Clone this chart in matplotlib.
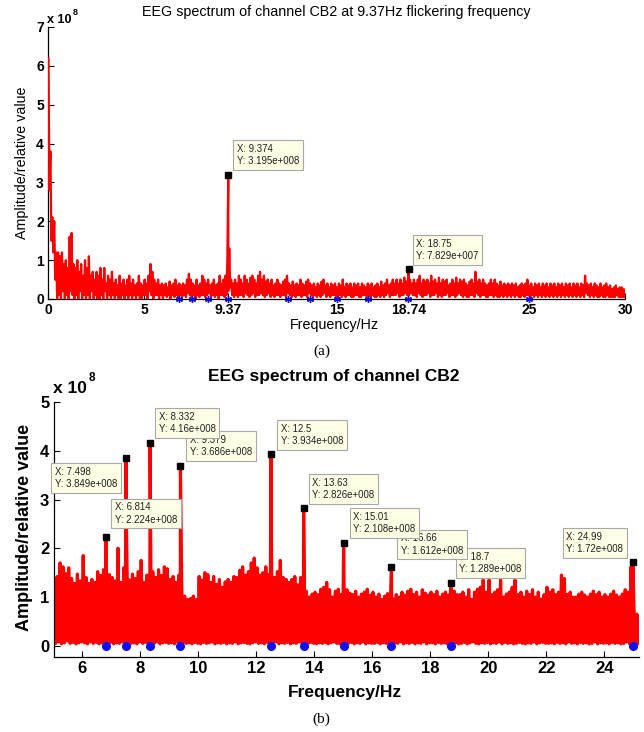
import numpy as np
import matplotlib
matplotlib.use('Agg')
import matplotlib.pyplot as plt

# ------------------------------------------------------------------ data
top_title = 'EEG spectrum of channel CB2 at 9.37Hz flickering frequency'
bot_title = 'EEG spectrum of channel CB2'
ylabel_text = 'Amplitude/relative value'
xlabel_text = 'Frequency/Hz'

# top spectrum: 0.1 Hz bins from 0 Hz, per-bin maxima / minima in units of 1e7
top_f0 = 0.0
top_df = 0.1
top_peaks = [
    62, 38, 21, 20, 12, 12, 11, 12, 9, 10,
    8, 16, 17, 9, 8, 10, 7, 9, 6, 10,
    8, 11, 6, 7, 5, 7, 6, 8, 5, 8,
    4, 6, 5, 7, 4, 5, 3.5, 6, 4, 5,
    3.5, 5, 6, 4, 5, 3.5, 4, 6, 4, 3.5,
    5, 4, 6, 9, 7, 5, 4, 5, 3.5, 4,
    3.5, 4, 3, 4.5, 3.5, 4, 5, 3.5, 4, 3.5,
    4, 3.5, 5, 6.5, 5, 4, 3.5, 5, 3.5, 4,
    6, 5, 4, 5, 3.5, 4, 5, 3.5, 4, 6,
    4, 5, 6, 10, 13, 5, 4, 5, 4, 6,
    5, 4, 6, 5, 4, 5.5, 6, 5, 4, 6,
    7, 5, 6, 4.5, 5, 4, 5, 3.5, 4, 5,
    4, 3.5, 4.5, 5, 6, 4, 3.5, 4.5, 3.5, 4,
    3.5, 5, 4, 3.5, 4.5, 5, 4, 3.5, 4, 3,
    4, 3.5, 4.5, 5, 3.5, 4, 3, 4, 3.5, 4,
    3, 4, 3.5, 5, 3, 4, 3.5, 4, 3, 4,
    3.5, 4, 3, 4, 3.5, 3, 4, 3.5, 4, 3,
    3.5, 4, 3, 4.5, 3.5, 4, 5, 3.5, 4, 5,
    4, 5, 4, 5, 4, 5.5, 4.5, 5, 5, 4,
    5, 4, 5, 6, 4, 5, 4.5, 5, 4, 6,
    4.5, 5, 4, 5.5, 4, 5, 4.5, 5, 3.5, 4,
    5, 4, 5.5, 4, 5, 4.5, 5, 4, 3.5, 4.5,
    5, 4, 7, 4.5, 5, 4, 5, 4, 3.5, 4,
    5, 4, 5, 4, 3.5, 4.5, 3.5, 4, 3.5, 4,
    3.5, 4, 3.5, 4, 3, 3.5, 4, 3.5, 4, 5,
    3.5, 4, 3, 4, 3.5, 4, 3, 4, 3.5, 4,
    3, 4, 3.5, 4, 3, 4, 3.5, 4, 3, 4,
    3.5, 4, 3, 4, 3.5, 4, 3, 4, 3.5, 6,
    4, 3.5, 4, 3, 4, 3.5, 3, 4, 3, 3.5,
    4, 3, 3.5, 2.5, 3, 3.5, 2.5, 3, 3, 2.5,
    2.5,
]
top_troughs = [
    28, 15, 12, 5, 0, 1, 0, 2, 0, 1,
    0, 2, 1, 0, 1, 0, 2, 0, 1, 0,
    1, 0, 2, 0, 1, 0, 0, 1, 0, 2,
    0, 1, 0, 1, 0, 1, 0, 0, 1, 0,
    1, 0, 1, 0, 1, 0, 1, 0, 0, 1,
    1, 0, 2, 1, 0, 1, 1, 0, 1, 0,
    1, 0.5, 1, 0, 1, 0.5, 1, 0, 1, 0.5,
    1, 0.5, 1.5, 1, 0.5, 1, 0, 1, 0.5, 1,
    1, 0.5, 1, 1.5, 0.5, 1, 0.5, 1, 0, 1,
    1, 0.5, 1, 2, 3, 1, 0.5, 1, 0.5, 1,
    1, 0.5, 1.5, 1, 0.5, 1, 1.5, 0.5, 1, 1,
    1.5, 1, 0.5, 1, 1.5, 0.5, 1, 0.5, 1, 1,
    0.5, 1, 1, 0.5, 1.5, 1, 0.5, 1, 0.5, 1,
    1, 0.5, 1, 1, 0.5, 1.5, 1, 0.5, 1, 0.5,
    1, 0.5, 1, 1.5, 0.5, 1, 0.5, 1, 1, 0.5,
    0.5, 1, 0.5, 1, 0.5, 1, 1, 0.5, 0.5, 1,
    1, 0.5, 0.5, 1, 1, 0.5, 1, 0.5, 1, 0.5,
    0.5, 1, 0.5, 1, 0.5, 1, 1.5, 0.5, 1, 1,
    1, 1.5, 0.5, 1, 1, 1.5, 1, 1, 1.5, 1,
    1, 0.5, 1.5, 1, 0.5, 1, 1, 1.5, 0.5, 1,
    1, 1.5, 0.5, 1, 0.5, 1, 1, 1.5, 0.5, 1,
    1, 0.5, 1, 1.5, 1, 0.5, 1, 0.5, 0.5, 1,
    1, 0.5, 1.5, 1, 0.5, 1, 1, 0.5, 0.5, 1,
    1, 0.5, 1, 0.5, 0.5, 1, 0.5, 1, 0.5, 1,
    0.5, 1, 0.5, 1, 0.5, 0.5, 1, 0.5, 1, 1,
    0.5, 1, 0.5, 1, 0.5, 1, 0.5, 1, 0.5, 1,
    0.5, 1, 0.5, 1, 0.5, 1, 0.5, 1, 0.5, 1,
    0.5, 1, 0.5, 1, 0.5, 1, 0.5, 1, 0.5, 1.5,
    1, 0.5, 1, 0.5, 1, 0.5, 0.5, 1, 0.5, 0.5,
    1, 0.5, 0.5, 0.5, 0.5, 1, 0.5, 0.5, 0.5, 0.5,
    0.5,
]
top_tip_x = [9.374, 18.75]
top_tip_y = [3.195e8, 7.829e7]
top_xticks = [0, 5, 9.37, 15, 18.74, 25, 30]
top_xticklabels = ['0', '5', '9.37', '15', '18.74', '25', '30']
top_yticks = [0, 1, 2, 3, 4, 5, 6, 7]

# stimulation frequencies (blue markers on the baseline)
stim_freqs = [6.814, 7.498, 8.332, 9.379, 12.5, 13.63, 15.01, 16.66, 18.7, 24.99]

# bottom spectrum: 0.1 Hz bins from 5 Hz, per-bin maxima / minima in units of 1e8
bot_f0 = 5.0
bot_df = 0.1
bot_peaks = [
    1.35, 1.42, 1.70, 1.62, 1.48, 1.60, 1.38, 1.28, 1.47, 1.33,
    1.85, 1.40, 1.28, 1.36, 1.30, 1.52, 1.44, 1.56, 1.60, 1.46,
    1.40, 1.33, 2.00, 1.30, 1.60, 2.10, 1.35, 1.47, 1.38, 1.52,
    1.75, 1.30, 1.45, 1.50, 1.52, 1.40, 1.56, 1.44, 1.62, 1.58,
    1.36, 1.42, 1.30, 1.45, 1.18, 1.02, 0.95, 0.97, 1.02, 0.95,
    1.42, 1.35, 1.50, 1.46, 1.30, 1.42, 1.26, 1.36, 1.20, 1.31,
    1.36, 1.30, 1.42, 1.40, 1.55, 1.62, 1.45, 1.52, 1.70, 1.80,
    1.60, 1.45, 1.50, 1.62, 1.46, 1.55, 1.40, 1.52, 1.75, 1.40,
    1.36, 1.30, 1.36, 1.42, 1.25, 1.40, 1.05, 1.12, 1.00, 1.06,
    1.10, 1.05, 1.16, 1.20, 1.30, 1.15, 1.00, 1.12, 1.16, 1.05,
    1.20, 1.15, 1.08, 1.05, 1.12, 1.00, 1.06, 1.10, 1.16, 1.04,
    1.10, 1.00, 1.06, 0.95, 1.02, 1.07, 1.00, 0.96, 1.05, 1.00,
    1.10, 1.04, 1.12, 1.16, 1.05, 1.10, 1.00, 1.15, 1.08, 1.04,
    1.10, 1.05, 1.12, 1.00, 1.06, 1.10, 1.04, 1.15, 1.12, 1.05,
    1.05, 1.10, 1.00, 1.15, 0.95, 1.10, 1.16, 1.20, 1.35, 1.10,
    1.35, 1.05, 1.10, 1.15, 1.35, 1.00, 1.06, 1.10, 1.20, 1.35,
    1.05, 1.10, 1.00, 1.12, 1.05, 1.15, 1.00, 1.10, 0.96, 1.05,
    1.20, 1.10, 1.15, 1.05, 1.10, 1.45, 1.38, 1.05, 1.10, 1.00,
    1.00, 1.06, 1.10, 1.04, 1.00, 1.06, 1.12, 1.05, 1.10, 1.00,
    1.05, 1.00, 1.06, 1.12, 1.04, 1.00, 1.06, 1.15, 1.10, 1.62,
    0.80, 0.65, 0.60,
]
bot_troughs = [
    0.05, 0.08, 0.04, 0.06, 0.10, 0.05, 0.07, 0.04, 0.06, 0.08,
    0.06, 0.04, 0.08, 0.05, 0.07, 0.04, 0.06, 0.09, 0.05, 0.07,
    0.04, 0.06, 0.05, 0.08, 0.04, 0.07, 0.05, 0.06, 0.04, 0.08,
    0.05, 0.07, 0.04, 0.06, 0.05, 0.08, 0.04, 0.06, 0.07, 0.05,
    0.06, 0.04, 0.08, 0.05, 0.07, 0.05, 0.06, 0.04, 0.07, 0.05,
    0.04, 0.07, 0.05, 0.06, 0.08, 0.04, 0.06, 0.05, 0.07, 0.04,
    0.06, 0.05, 0.08, 0.04, 0.06, 0.07, 0.05, 0.04, 0.06, 0.08,
    0.05, 0.06, 0.04, 0.07, 0.05, 0.06, 0.08, 0.04, 0.06, 0.05,
    0.07, 0.04, 0.06, 0.05, 0.08, 0.05, 0.06, 0.04, 0.07, 0.05,
    0.04, 0.06, 0.05, 0.07, 0.04, 0.06, 0.08, 0.05, 0.04, 0.06,
    0.06, 0.05, 0.07, 0.04, 0.06, 0.05, 0.08, 0.04, 0.06, 0.05,
    0.05, 0.07, 0.04, 0.06, 0.05, 0.04, 0.07, 0.06, 0.05, 0.08,
    0.04, 0.06, 0.05, 0.07, 0.04, 0.06, 0.05, 0.08, 0.04, 0.06,
    0.06, 0.04, 0.07, 0.05, 0.06, 0.04, 0.08, 0.05, 0.06, 0.04,
    0.05, 0.07, 0.04, 0.06, 0.08, 0.05, 0.04, 0.06, 0.05, 0.07,
    0.04, 0.06, 0.05, 0.08, 0.04, 0.07, 0.05, 0.06, 0.04, 0.05,
    0.07, 0.05, 0.04, 0.06, 0.05, 0.08, 0.04, 0.06, 0.07, 0.05,
    0.05, 0.06, 0.04, 0.07, 0.05, 0.06, 0.04, 0.08, 0.05, 0.06,
    0.04, 0.07, 0.05, 0.06, 0.04, 0.05, 0.08, 0.04, 0.06, 0.05,
    0.06, 0.04, 0.07, 0.05, 0.06, 0.04, 0.05, 0.08, 0.04, 0.06,
    0.05, 0.04, 0.06,
]
bot_tip_x = [6.814, 7.498, 8.332, 9.379, 12.5, 13.63, 15.01, 16.66, 18.7, 24.99]
bot_tip_y = [2.224e8, 3.849e8, 4.16e8, 3.686e8, 3.934e8, 2.826e8, 2.108e8,
             1.612e8, 1.289e8, 1.72e8]
bot_xticks = [6, 8, 10, 12, 14, 16, 18, 20, 22, 24]
bot_yticks = [0, 1, 2, 3, 4, 5]

# ------------------------------------------------------------------ layout / style
W, H = 644, 732
SANS = 'Liberation Sans'
RED = '#ff0000'
TIP_FC = '#ffffe6'
TIP_EC = '#a8a8a8'
TIP_FS = 6.9
TIP_PAD = 0.38
# (dx, dy, corner, zorder) box corner offsets from the marker, in pixels
top_tip_layout = [(5, 5, 'll', 6), (4, 4, 'll', 6)]
bot_tip_layout = [(5, 9, 'll', 6), (-5, -5, 'ur', 6), (5, 5, 'll', 7),
                  (6, 5, 'll', 6), (6, 4, 'll', 6), (5, 4, 'll', 6),
                  (6, 5, 'll', 8), (6, 8, 'll', 7), (5, 5, 'll', 6),
                  (-6, 4, 'lr', 6)]


def px(x, y):
    return x / W, 1 - y / H


def build_series(f0, df, peaks, troughs, scale, tip_x, tip_y):
    peaks = np.asarray(peaks, float) * scale
    troughs = np.asarray(troughs, float) * scale
    fx = f0 + df * np.arange(len(peaks))
    x = np.concatenate([fx + 0.25 * df, fx + 0.75 * df, np.asarray(tip_x, float)])
    y = np.concatenate([peaks, troughs, np.asarray(tip_y, float)])
    order = np.argsort(x, kind='stable')
    return x[order], y[order]


def tip_label(x, y):
    mant, ex = ('%.4g' % y).split('e')
    return 'X: %s\nY: %se%s%03d' % ('%.4g' % x, mant, ex[0], int(ex[1:]))


def draw_tips(ax, xs, ys, layout):
    ax.plot(xs, np.asarray(ys) / 1e8, linestyle='none', marker='s', ms=5,
            color='black', zorder=5, clip_on=False)
    pad_px = TIP_PAD * TIP_FS * 100 / 72
    for x, y, (dx, dy, corner, z) in zip(xs, ys, layout):
        if corner == 'll':
            off, ha, va = (dx + pad_px, dy + pad_px), 'left', 'bottom'
        elif corner == 'ur':
            off, ha, va = (dx - pad_px, dy - pad_px), 'right', 'top'
        else:
            off, ha, va = (dx - pad_px, dy + pad_px), 'right', 'bottom'
        ax.annotate(tip_label(x, y), xy=(x, y / 1e8), xytext=off,
                    textcoords='offset pixels', ha=ha, va=va,
                    multialignment='left',
                    fontsize=TIP_FS, family=SANS, color='#202020',
                    linespacing=1.3, annotation_clip=False, zorder=z,
                    bbox=dict(boxstyle='square,pad=%g' % TIP_PAD, fc=TIP_FC,
                              ec=TIP_EC, lw=0.8))


def style_axes(ax, labelsize):
    for s in ('top', 'right'):
        ax.spines[s].set_visible(False)
    for s in ('left', 'bottom'):
        ax.spines[s].set_linewidth(0.9)
    ax.tick_params(direction='in', length=4, width=0.8, labelsize=labelsize,
                   pad=3)
    for lab in ax.get_xticklabels() + ax.get_yticklabels():
        lab.set_fontfamily(SANS)
        lab.set_fontweight('bold')


fig = plt.figure(figsize=(W / 100, H / 100), dpi=100)
fig.patch.set_facecolor('white')

# ------------------------------------------------------------------ top chart
l, b = px(48, 299)
r, t = px(625, 27)
ax1 = fig.add_axes([l, b, r - l, t - b])
x1, y1 = build_series(top_f0, top_df, top_peaks, top_troughs, 1e7,
                      top_tip_x, top_tip_y)
ax1.plot(x1, y1 / 1e8, color=RED, lw=1.6, zorder=3)
ax1.plot(stim_freqs, np.zeros(len(stim_freqs)), linestyle='none',
         marker=(6, 2, 0), ms=5, mew=1.0, color='#1010e0', zorder=4,
         clip_on=False)
ax1.set_xlim(0, 30)
ax1.set_ylim(0, 7)
ax1.set_xticks(top_xticks)
ax1.set_xticklabels(top_xticklabels)
ax1.set_yticks(top_yticks)
style_axes(ax1, 10)
draw_tips(ax1, top_tip_x, top_tip_y, top_tip_layout)

fig.text(*px(336, 12), top_title, ha='center', va='center', fontsize=10.3,
         family=SANS)
fig.text(*px(47, 23), 'x 10', ha='left', va='baseline', fontsize=9,
         family=SANS, fontweight='bold')
fig.text(*px(73, 15), '8', ha='left', va='baseline', fontsize=6.5,
         family=SANS, fontweight='bold')
fig.text(*px(22, 163), ylabel_text, rotation=90, ha='center', va='center',
         fontsize=10.3, family=SANS)
fig.text(*px(334, 325), xlabel_text, ha='center', va='center', fontsize=10.3,
         family=SANS)
fig.text(*px(322, 351), '(a)', ha='center', va='center', fontsize=11,
         family='Liberation Serif')

# ------------------------------------------------------------------ bottom chart
l, b = px(53.5, 657)
r, t = px(639, 402)
ax2 = fig.add_axes([l, b, r - l, t - b])
x2, y2 = build_series(bot_f0, bot_df, bot_peaks, bot_troughs, 1e8,
                      bot_tip_x, bot_tip_y)
ax2.plot(x2, y2 / 1e8, color=RED, lw=2.3, zorder=2)
ax2.plot(stim_freqs, np.zeros(len(stim_freqs)), linestyle='none', marker='o',
         ms=5.5, color='#1010f0', mec='#1010f0', zorder=4, clip_on=False)
ax2.set_xlim(5, 25.2)
ax2.set_ylim(-0.23, 5)
ax2.set_xticks(bot_xticks)
ax2.set_yticks(bot_yticks)
style_axes(ax2, 12)
draw_tips(ax2, bot_tip_x, bot_tip_y, bot_tip_layout)

fig.text(*px(208, 377), bot_title, ha='left', va='center', fontsize=12.5,
         family=SANS, fontweight='bold')
fig.text(*px(53, 393), 'x 10', ha='left', va='baseline', fontsize=12.5,
         family=SANS, fontweight='bold')
fig.text(*px(89, 381), '8', ha='left', va='baseline', fontsize=8.5,
         family=SANS, fontweight='bold')
fig.text(*px(25, 527), ylabel_text, rotation=90, ha='center', va='center',
         fontsize=13, family=SANS, fontweight='bold')
fig.text(*px(345, 692), xlabel_text, ha='center', va='center', fontsize=12.5,
         family=SANS, fontweight='bold')
fig.text(*px(321, 719), '(b)', ha='center', va='center', fontsize=11,
         family='Liberation Serif')

fig.savefig('out.png', dpi=100, facecolor='white')
